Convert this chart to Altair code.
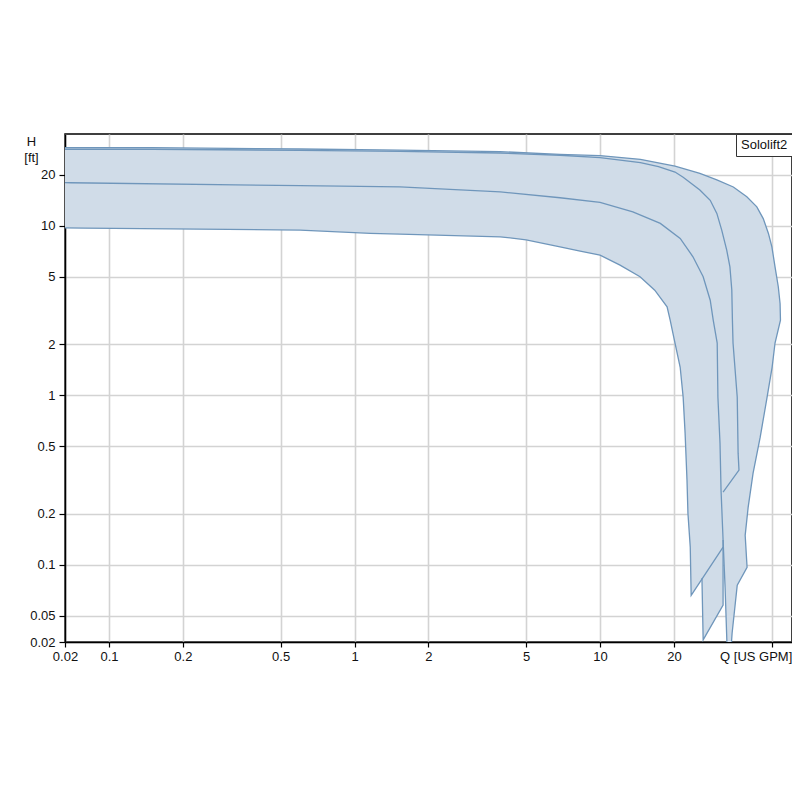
import altair as alt
import pandas as pd

MODEL = "Sololift2"
FILL = "#d0dce8"
STROKE = "#6f96bb"

# Outer / top curve (with its tail)
t_q = [0.02, 0.15, 0.6, 1.53, 3.92, 6.87, 10, 14.6, 20.2, 25.5, 29.9, 34.9, 39.6, 43.5, 46.2, 48.5,
       50.1, 51.6, 53.2, 54.1, 54.3, 51.6, 50.2, 47.9, 44.9, 42.0, 40.1, 39.0, 39.7, 36.2, 34.5, 34.2]
t_h = [28.8, 28.8, 28.3, 27.9, 27.3, 26.3, 25.9, 24.6, 22.4, 20.3, 18.6, 16.9, 14.8, 12.9, 11.0, 8.99,
       7.50, 5.71, 4.36, 3.47, 2.77, 2.03, 1.46, 0.973, 0.565, 0.347, 0.218, 0.149, 0.0966, 0.0757, 0.0394, 0.033]

# Second curve
b_q = [0.02, 0.15, 0.6, 1.53, 3.92, 6.87, 10, 14.6, 17.3, 20.2, 21.8, 25.5, 28.1, 29.9, 31.3, 32.8,
       33.8, 34.4, 34.6, 34.8, 36.2, 36.5, 36.8, 31.7]
b_h = [28.2, 28.2, 27.8, 27.4, 26.8, 26.0, 25.2, 23.5, 22.3, 20.7, 19.3, 16.2, 14.1, 11.8, 9.41, 7.17,
       5.71, 4.17, 2.77, 2.03, 0.973, 0.455, 0.361, 0.268]

# Middle curve
c_q = [0.02, 0.07, 0.6, 1.53, 3.92, 6.87, 10, 13.6, 17.6, 21.2, 23.9, 26.3, 28.1, 28.9, 30.0, 30.2,
       30.8, 31.1, 31.7]
c_h = [18.1, 17.9, 17.2, 16.9, 15.8, 14.6, 13.7, 12.06, 10.3, 8.40, 6.55, 4.99, 3.63, 2.77, 2.03, 0.973,
       0.521, 0.275, 0.140]
c_tail_q = [31.7, 26.3, 26.0]
c_tail_h = [0.0577, 0.036, 0.0832]

# Lowest curve
d_q = [0.02, 0.08, 0.6, 1.16, 1.53, 3.92, 5.0, 6.87, 8.3, 10, 12.06, 14.55, 16.7, 18.75, 19.3, 19.8,
       20.2, 21.2, 21.8, 22.2, 22.6, 22.8, 23.3, 23.5, 31.7]
d_h = [9.84, 9.66, 9.41, 9.0, 8.91, 8.59, 8.25, 7.5, 7.07, 6.70, 5.85, 4.99, 4.16, 3.32, 2.77, 2.32,
       2.03, 1.46, 0.973, 0.597, 0.315, 0.201, 0.127, 0.066, 0.127]

# Extra tail edges of the range
e_q = [34.2, 32.9, 32.3, 31.7]
e_h = [0.033, 0.033, 0.0736, 0.140]
f3_q = [26.0, 26.3, 31.7, 31.7]
f3_h = [0.0832, 0.036, 0.0577, 0.127]

x_ticks = [0.0662, 0.1, 0.2, 0.5, 1, 2, 5, 10, 20, 50]
y_ticks = [0.035, 0.05, 0.1, 0.2, 0.5, 1, 2, 5, 10, 20]


def rows(name, qs, hs):
    return [{"poly": name, "i": k, "Q": q, "H": h, "model": MODEL}
            for k, (q, h) in enumerate(zip(qs, hs))]


fills = pd.DataFrame(
    rows("f1", d_q + c_q[::-1], d_h + c_h[::-1])
    + rows("f2", t_q + e_q[:-1] + c_q[::-1], t_h + e_h[:-1] + c_h[::-1])
    + rows("f3", f3_q, f3_h)
)
strokes = pd.DataFrame(
    rows("t", t_q, t_h)
    + rows("b", b_q, b_h)
    + rows("c", c_q + c_tail_q, c_h + c_tail_h)
    + rows("d", d_q, d_h)
    + rows("e", e_q, e_h)
)

xs = alt.Scale(type="log", domain=[0.0662, 60.5], nice=False)
ys = alt.Scale(type="log", domain=[0.035, 34.7], nice=False)

x_enc = alt.X("Q:Q", scale=xs, axis=alt.Axis(
    values=x_ticks, title=None, labelFlush=False, labelOverlap=False,
    labelExpr="datum.value < 0.07 ? '0.02' : (datum.value > 30 ? 'Q [US GPM]' : '' + datum.value)",
    labelOffset={"condition": {"test": "datum.value > 30", "value": -16}, "value": 0},
    labelPadding=3, tickSize=5))
y_enc = alt.Y("H:Q", scale=ys, axis=alt.Axis(
    values=y_ticks, title=["H", "[ft]"], titleAngle=0, titleX=-34, titleY=7,
    titleAlign="center", titleBaseline="middle", titleLineHeight=16,
    labelFlush=False, labelOverlap=False,
    labelExpr="datum.value < 0.04 ? '0.02' : '' + datum.value",
    labelPadding=4, tickSize=6))

fill_layer = alt.Chart(fills).mark_line(
    fill=FILL, stroke=None, strokeWidth=0, clip=True, interpolate="linear"
).encode(x=x_enc, y=y_enc, order="i:Q", detail="poly:N")

stroke_layer = alt.Chart(strokes).mark_line(
    strokeWidth=1.3, clip=True, interpolate="linear"
).encode(
    x=x_enc, y=y_enc, order="i:Q", detail="poly:N",
    color=alt.Color("model:N", scale=alt.Scale(range=[STROKE]), legend=alt.Legend(
        title=None, orient="top-right", offset=0, padding=4,
        strokeColor="#333333", fillColor="white",
        symbolSize=0, symbolOpacity=0, symbolStrokeWidth=0, labelOffset={"expr": "-12"},
        labelFontSize=13, labelFont="Liberation Sans", labelColor="#111")),
)

chart = alt.layer(fill_layer, stroke_layer).properties(
    width=727, height=508,
    autosize=alt.AutoSizeParams(type="none"),
    padding={"left": 57, "top": 126, "right": 0, "bottom": 40},
).configure_view(
    stroke="black", strokeWidth=1.5
).configure_axis(
    labelFont="Liberation Sans", labelFontSize=13, labelColor="#111",
    titleFont="Liberation Sans", titleFontSize=13, titleFontWeight="normal", titleColor="#111",
    gridColor="#d3d3d3", gridWidth=1.6, domainColor="black", domainWidth=1.5,
    tickColor="black", tickWidth=1.2,
)

chart.save("out.html", embed_options={"renderer": "svg", "actions": False})
